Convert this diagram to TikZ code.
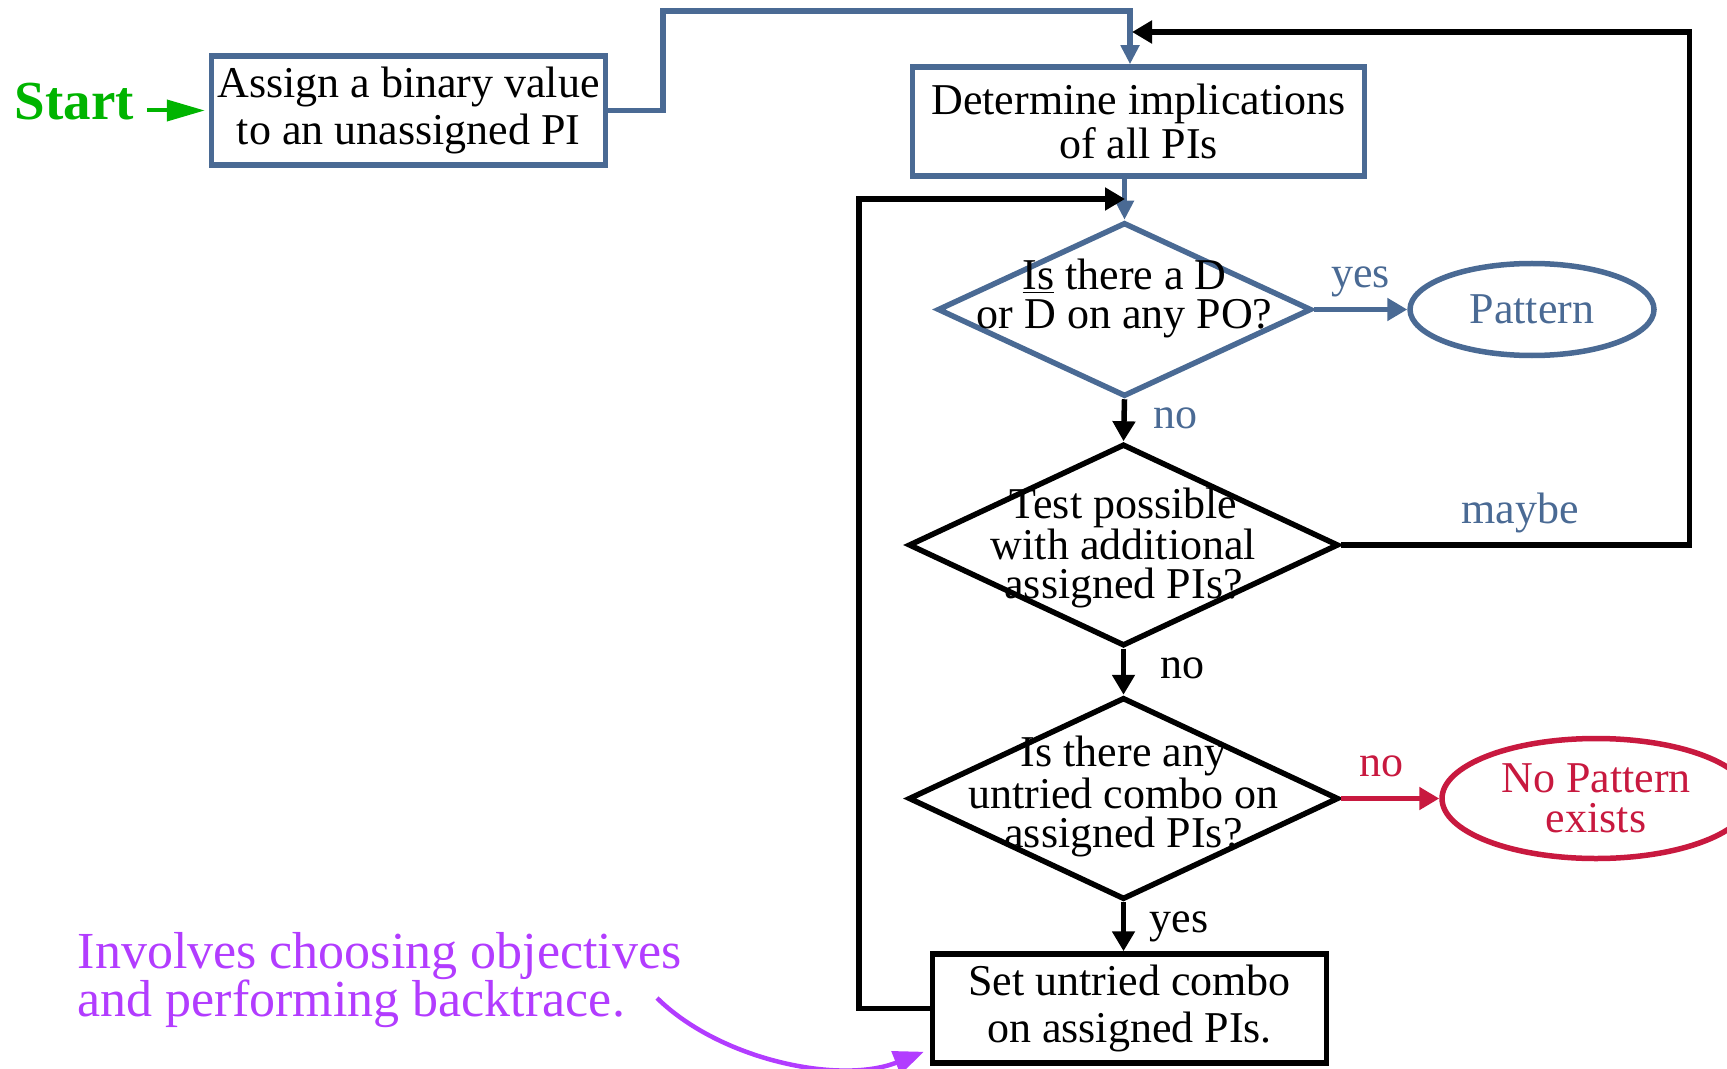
\documentclass[tikz,border=0pt]{standalone}
\usepackage{fontspec}
\setmainfont{Liberation Serif}
\usetikzlibrary{shapes.geometric,arrows.meta}

\definecolor{flowblue}{HTML}{4A6A94}
\definecolor{flowred}{HTML}{C8193F}
\definecolor{flowgreen}{HTML}{00B400}
\definecolor{flowpurple}{HTML}{B23CFF}

\begin{document}
\begin{tikzpicture}[x=0.5pt,y=-0.5pt,line width=2.75pt,
    >={Triangle[length=10pt,width=11pt]},
    every node/.style={font=\fontsize{22}{23.5}\selectfont},
    box node/.style={rectangle,draw,align=center,inner sep=0pt,minimum width=197pt,minimum height=54.5pt},
    decision node/.style={diamond,draw,inner sep=0pt,minimum width=215pt,minimum height=101pt},
    dia text/.style={align=center,font=\fontsize{22}{19.5}\selectfont},
    end node/.style={ellipse,draw,align=center,inner sep=0pt}]

  \useasboundingbox (0,0) rectangle (1727,1069);

  % start and first step
  \node[font=\fontsize{27.5}{30}\selectfont\bfseries,text=flowgreen,inner sep=0pt] (start) at (74.5,101.5) {Start};
  \node[box node,draw=flowblue] (assign) at (408.5,110.5) {Assign a binary value\\to an unassigned PI};

  % main column
  \node[box node,draw=flowblue,minimum width=226pt,font=\fontsize{22}{22}\selectfont] (implic) at (1138.5,121.5) {Determine implications\\of all PIs};
  \node[decision node,draw=flowblue,minimum width=187pt,minimum height=87pt,
        label={[dia text,yshift=5.5pt]center:\underline{Is} there a D\\or D on any PO?}] (po) at (1124.5,309.5) {};
  \node[decision node,label={[dia text,yshift=-1.5pt]center:Test possible\\with additional\\assigned PIs?}] (test) at (1123.5,545) {};
  \node[decision node,label={[dia text,yshift=1.2pt]center:Is there any\\untried combo on\\assigned PIs?}] (combo) at (1123.5,798.5) {};
  \node[box node] (set) at (1129.5,1008.5) {Set untried combo\\on assigned PIs.};

  % outcomes
  \node[end node,draw=flowblue,text=flowblue,minimum width=122pt,minimum height=46pt] (pattern) at (1532,309.5) {Pattern};
  \node[end node,draw=flowred,text=flowred,minimum width=154pt,minimum height=60pt,
        font=\fontsize{22}{19.8}\selectfont] (nopattern) at (1596,798.5) {No Pattern\\exists};

  % note
  \node[text=flowpurple,align=left,anchor=west,inner sep=0pt,font=\fontsize{26}{24.25}\selectfont] (note) at (75,980) {Involves choosing objectives\\and performing backtrace.};

  \coordinate (back1) at (1132,32);
  \coordinate (back2) at (1125,199);
  \coordinate (noteend) at (657,998);

  \draw[flowgreen,line width=2pt,-{Triangle[length=19pt,width=10.5pt]}] ([xshift=5pt]start.east |- assign.west) -- ([xshift=-2pt]assign.west);
  \draw[flowblue,-{Triangle[length=9.5pt,width=9pt]}] (assign.east) -| (663,11) -| ([xshift=-4.25pt]implic.north);
  \draw[flowblue,-{Triangle[length=9.5pt,width=9pt]}] (implic.south -| po.north) -- (po.north);

  \path[->,flowblue] (po.east) edge node[above=1.5pt] {yes} (pattern.west);
  \path[->,flowred] (combo.east) edge node[pos=0.41,above=5.9pt] {no} (nopattern.west);
  \path[->]
    (po.south) edge node[pos=0.45,right=10pt,text=flowblue] {no} (test.north)
    (test.south) edge node[pos=0.42,right=13.7pt] {no} (combo.north)
    (combo.south) edge node[pos=0.5,right=8.5pt] {yes} (combo.south |- set.north);

  \draw[->] (test.east) -| node[pos=0.257,above=1.5pt,text=flowblue] {maybe} (1689.5,32) -- (back1);
  \draw[->] (set.west) -| (859,199) -- (back2);

  \draw[flowpurple,line width=2.25pt,-{Triangle[length=15pt,width=12pt]}] (noteend) .. controls (720,1060) and (840,1085) .. ([shift={(-3pt,7pt)}]set.south west);
\end{tikzpicture}
\end{document}
